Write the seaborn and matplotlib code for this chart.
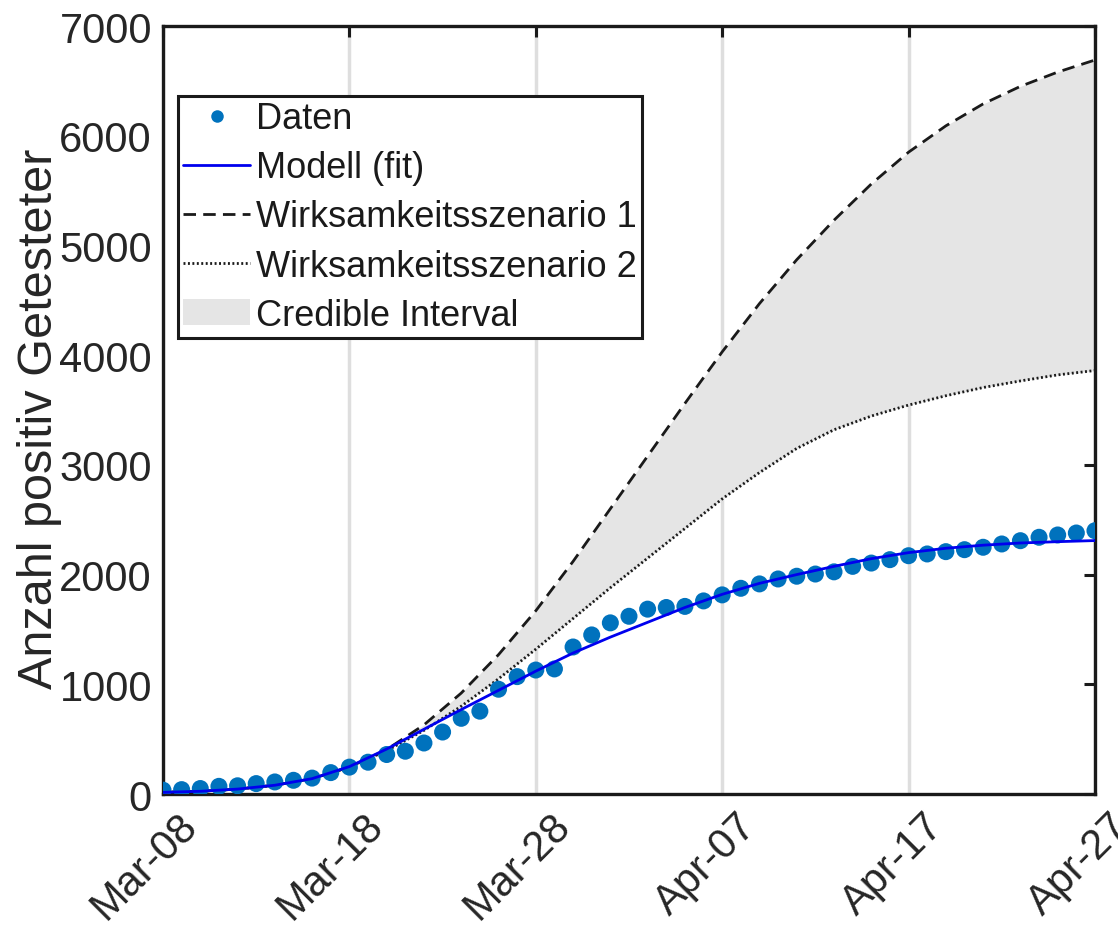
# Positiv getestete Fälle: Daten, Modell-Fit und zwei Wirksamkeitsszenarien
import pandas as pd
import matplotlib
matplotlib.use("Agg")
import matplotlib.pyplot as plt
import matplotlib.dates as mdates
import matplotlib.transforms as mtransforms
from matplotlib.lines import Line2D
from matplotlib.patches import Patch
import seaborn as sns

# ---------------- data ----------------
start, end = "2020-03-08", "2020-04-27"
days = pd.date_range(start, end, freq="D")        # one data point per day
curve_days = pd.date_range(start, end, freq="2D")  # curves sampled every 2 days

daten = [35, 40, 50, 70, 75, 95, 110, 125, 145, 195,
         245, 290, 360, 390, 465, 565, 690, 755, 955, 1070,
         1130, 1140, 1340, 1450, 1560, 1620, 1685, 1700, 1710, 1760,
         1815, 1875, 1915, 1960, 1985, 2005, 2025, 2075, 2105, 2136,
         2172, 2188, 2209, 2227, 2249, 2279, 2309, 2340, 2361, 2379, 2400]

modell = [15, 25, 45, 80, 140, 250, 410, 590, 770, 945,
          1120, 1285, 1430, 1565, 1700, 1820, 1920, 2000, 2075, 2145,
          2200, 2240, 2268, 2288, 2300, 2310]

szenario1 = [15, 25, 45, 80, 140, 245, 405, 630, 920, 1270,
             1670, 2120, 2600, 3080, 3560, 4030, 4470, 4870, 5230, 5560,
             5850, 6090, 6290, 6450, 6580, 6690]

szenario2 = [15, 25, 45, 80, 140, 245, 395, 580, 800, 1050,
             1320, 1600, 1880, 2150, 2420, 2690, 2930, 3150, 3320, 3445,
             3545, 3630, 3705, 3765, 3820, 3860]

labels = ["Daten", "Modell (fit)", "Wirksamkeitsszenario 1",
          "Wirksamkeitsszenario 2", "Credible Interval"]

df_data = pd.DataFrame({"Datum": days, "Anzahl": daten})
df_curves = pd.DataFrame({"Datum": curve_days, "Modell": modell,
                          "S1": szenario1, "S2": szenario2})

# ---------------- style ----------------
sns.set_style("white")
plt.rcParams["font.family"] = ["Liberation Sans", "DejaVu Sans"]
TXT = "#262626"
DOT_BLUE = "#0072BD"
SHADE = "#e5e5e5"
DASH = (4.5, 2.6)
DOT = (0, (0.7, 0.9))

fig = plt.figure(figsize=(11.18, 9.28), dpi=100)
ax = fig.add_axes([0.1458, 0.1433, 0.8336, 0.8276])

# shaded band between the two scenarios
ax.fill_between(df_curves["Datum"], df_curves["S2"], df_curves["S1"],
                color=SHADE, linewidth=0, zorder=1)

sns.lineplot(data=df_curves, x="Datum", y="S1", ax=ax, color="#1a1a1a",
             linewidth=2.0, zorder=3)
ax.lines[-1].set_dashes(DASH)
sns.lineplot(data=df_curves, x="Datum", y="S2", ax=ax, color="#1a1a1a",
             linewidth=2.0, zorder=3)
ax.lines[-1].set_linestyle(DOT)
sns.scatterplot(data=df_data, x="Datum", y="Anzahl", ax=ax, color=DOT_BLUE,
                s=150, edgecolor="none", zorder=4)
sns.lineplot(data=df_curves, x="Datum", y="Modell", ax=ax, color="#0000ee",
             linewidth=2.0, zorder=5)

# ---------------- axes ----------------
ax.set_xlim(pd.Timestamp(start), pd.Timestamp(end))
ax.set_ylim(0, 7000)
ax.set_yticks(range(0, 7001, 1000))
ax.set_xticks(pd.date_range(start, end, freq="10D"))
ax.xaxis.set_major_formatter(mdates.DateFormatter("%b-%d"))
ax.xaxis.grid(True, color="#dedede", linewidth=2.5)
ax.set_axisbelow(True)

ax.tick_params(axis="both", direction="in", length=8, width=2.2,
               top=True, right=True, colors="#1a1a1a",
               labelcolor=TXT, pad=8, labelsize=30)
shift = mtransforms.ScaledTranslation(14 / 100, 0, fig.dpi_scale_trans)
for lab in ax.get_xticklabels():
    lab.set_rotation(45)
    lab.set_ha("right")
    lab.set_rotation_mode("anchor")
    lab.set_transform(lab.get_transform() + shift)
for sp in ax.spines.values():
    sp.set_linewidth(2.4)
    sp.set_color("#1a1a1a")

ax.set_xlabel("")
ax.set_ylabel("Anzahl positiv Getesteter", fontsize=35, color=TXT)
ax.yaxis.set_label_coords(-0.108, 0.49)

# ---------------- legend ----------------
handles = [
    Line2D([], [], linestyle="none", marker="o", markersize=9,
           color=DOT_BLUE, markeredgecolor="none"),
    Line2D([], [], color="#0000ee", linewidth=2.0),
    Line2D([], [], color="#1a1a1a", linewidth=2.0, dashes=DASH),
    Line2D([], [], color="#1a1a1a", linewidth=2.0, linestyle=DOT),
    Patch(facecolor=SHADE, edgecolor="none"),
]
leg = ax.legend(handles, labels, loc="upper left",
                bbox_to_anchor=(0.016, 0.909), borderaxespad=0,
                fontsize=26, frameon=True, fancybox=False, framealpha=1,
                handlelength=1.85, handletextpad=0.15, labelspacing=0.39,
                borderpad=0.15)
leg.get_frame().set_edgecolor("#1a1a1a")
leg.get_frame().set_linewidth(2.2)
for t in leg.get_texts():
    t.set_color("#1a1a1a")

fig.savefig("out.png", dpi=100, facecolor="white")
